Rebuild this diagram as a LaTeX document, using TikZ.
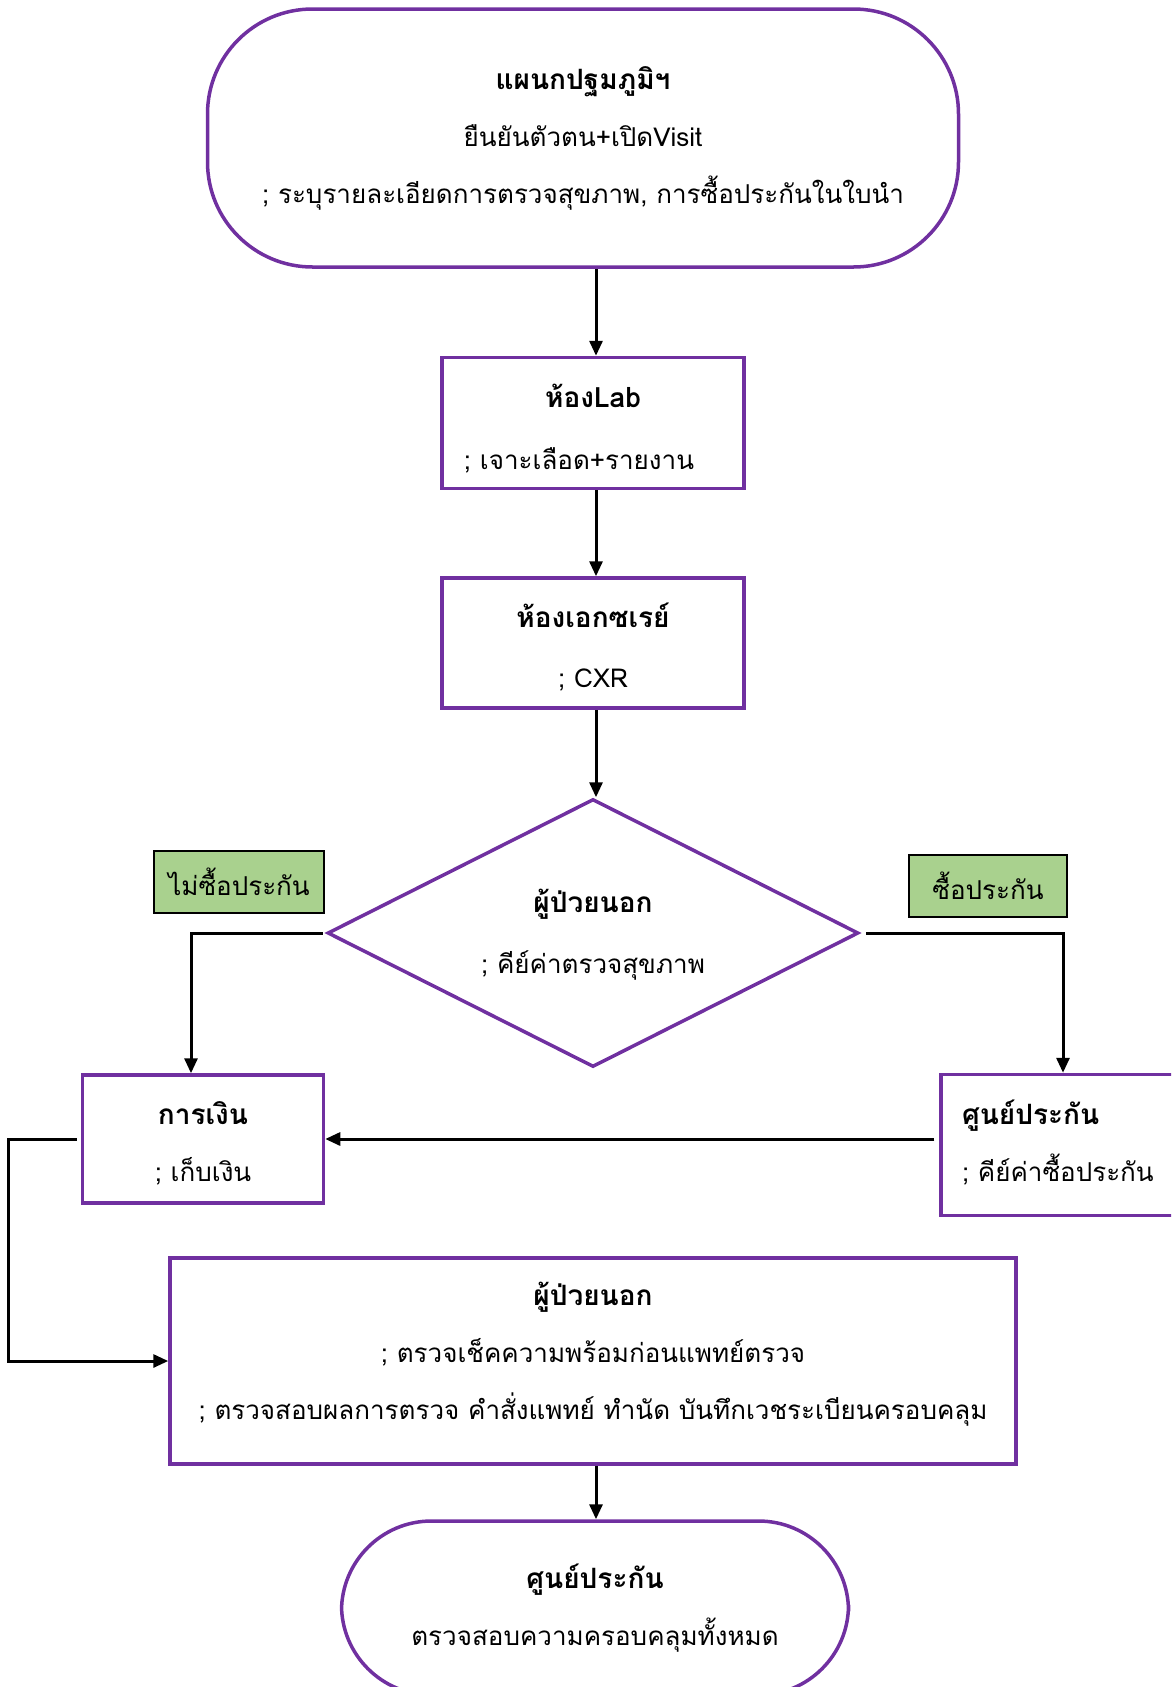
\documentclass[tikz,border=0pt]{standalone}
\usepackage{fontspec}
\setmainfont[Script=Thai]{Loma}
\usetikzlibrary{shapes.geometric,arrows.meta}
\definecolor{flowpurple}{HTML}{7030A0}
\definecolor{tagfill}{HTML}{A9D18E}
\newcommand{\boxtitle}[1]{{\fontsize{28}{57}\selectfont\bfseries #1}}

\begin{document}
\begin{tikzpicture}[x=1pt,y=-1pt,>={Triangle[length=15pt,width=13pt]},
      every node/.style={font=\fontsize{26}{57}\selectfont,align=center,inner sep=0pt},
      endcap/.style={draw=flowpurple,line width=3.5pt,rounded corners=105pt},
      roombox/.style={draw=flowpurple,line width=3.5pt,rectangle},
      choicetag/.style={draw=black,line width=2pt,fill=tagfill,minimum height=62pt},
      flowline/.style={->,line width=3pt}]
      \clip (0,0) rectangle (1171,1687);

      \node[endcap,minimum width=751pt,minimum height=258pt] (1) at (583,138) {\boxtitle{แผนกปฐมภูมิฯ}\\ยืนยันตัวตน+เปิดVisit\\; ระบุรายละเอียดการตรวจสุขภาพ, การซื้อประกันในใบนำ};
      \node[roombox,minimum width=302pt,minimum height=131pt,node distance=285pt,below of=1,xshift=10pt,font=\fontsize{26}{62}\selectfont] (2) {\rule{0pt}{49pt}\boxtitle{ห้องLab}\\; เจาะเลือด+รายงาน\rule[-19pt]{0pt}{19pt}\hspace*{28pt}};
      \node[roombox,minimum width=302pt,minimum height=130pt,node distance=220pt,below of=2,font=\fontsize{26}{60}\selectfont] (3) {\rule{0pt}{49pt}\boxtitle{ห้องเอกซเรย์}\\; CXR\rule[-20pt]{0pt}{20pt}};
      \node[diamond,draw=flowpurple,line width=3.5pt,aspect=1.98,minimum width=531pt,minimum height=268pt,node distance=290pt,below of=3,font=\fontsize{26}{61}\selectfont] (4) {\rule{0pt}{50pt}\boxtitle{ผู้ป่วยนอก}\\; คีย์ค่าตรวจสุขภาพ\rule[-30pt]{0pt}{30pt}};
      \node[choicetag,minimum width=170pt] (5) at (239,882) {ไม่ซื้อประกัน};
      \node[choicetag,minimum width=158pt] (6) at (988,886) {ซื้อประกัน};
      \node[roombox,minimum width=241pt,minimum height=128pt,node distance=206pt,below of=4,xshift=-390pt] (7) {\rule{0pt}{49pt}\boxtitle{การเงิน}\\; เก็บเงิน\rule[-21pt]{0pt}{21pt}};
      \node[roombox,minimum width=262pt,minimum height=141pt,text width=220pt,align=left,node distance=212pt,below of=4,xshift=479pt] (8) {\rule{0pt}{46pt}\boxtitle{ศูนย์ประกัน}\\; คีย์ค่าซื้อประกัน\rule[-30pt]{0pt}{30pt}};
      \node[roombox,minimum width=846pt,minimum height=206pt,node distance=428pt,below of=4] (9) {\rule{0pt}{46pt}\boxtitle{ผู้ป่วยนอก}\\; ตรวจเช็คความพร้อมก่อนแพทย์ตรวจ\\; ตรวจสอบผลการตรวจ คำสั่งแพทย์ ทำนัด บันทึกเวชระเบียนครอบคลุม\rule[-43pt]{0pt}{43pt}};
      \node[endcap,rounded corners=90pt,minimum width=507pt,minimum height=174pt,node distance=247pt,below of=9,xshift=2pt] (10) {\rule{0pt}{48pt}\boxtitle{ศูนย์ประกัน}\\ตรวจสอบความครอบคลุมทั้งหมด\rule[-30pt]{0pt}{30pt}};

      \draw[flowline] ([xshift=3pt]1.south -| 2.north) -- ([xshift=3pt]2.north);
      \draw[flowline] ([xshift=3pt]2.south) -- ([xshift=3pt]3.north);
      \draw[flowline] ([xshift=3pt]3.south) -- ([xshift=3pt]4.north);
      \draw[flowline] ([xshift=-3pt]4.west) -| ([xshift=-12pt]7.north);
      \draw[flowline] ([xshift=6pt]4.east) -| ([xshift=-9pt]8.north);
      \draw[flowline] ([xshift=-5pt]8.west |- 7.east) -- (7.east);
      \draw[flowline] ([xshift=-4pt]7.west) -- ++(-68,0) |- (9.west);
      \draw[flowline] ([xshift=1pt]9.south -| 10.north) -- ([xshift=1pt]10.north);
    \end{tikzpicture}
\end{document}
